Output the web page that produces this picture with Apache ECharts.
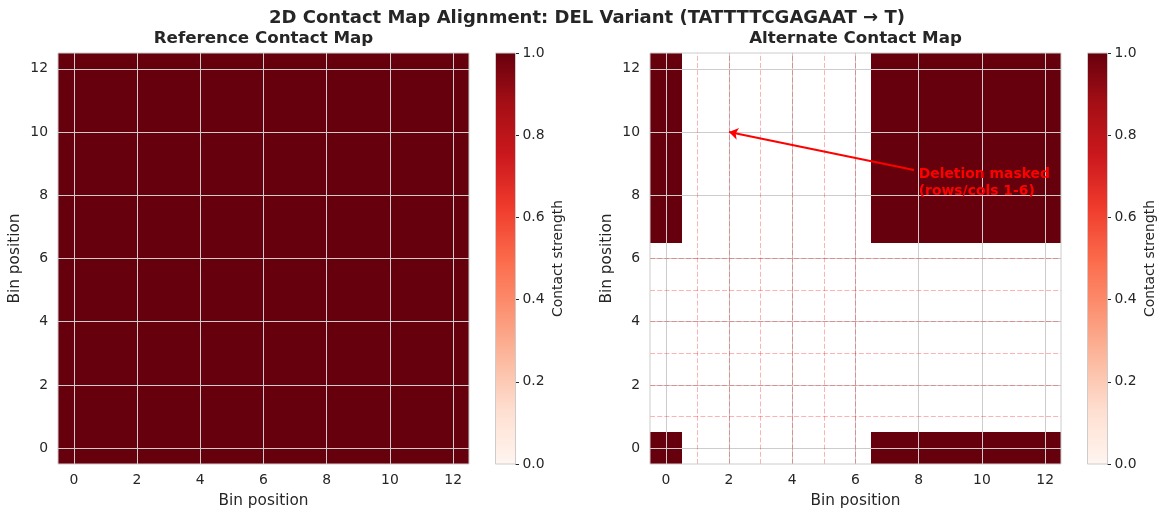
<!DOCTYPE html>
<html>
<head>
<meta charset="utf-8">
<script src="https://cdn.jsdelivr.net/npm/echarts@6/dist/echarts.min.js"></script>
<style>
  html, body { margin: 0; padding: 0; background: #fff; }
  #chart { width: 1168px; height: 518px; }
</style>
</head>
<body>
<div id="chart"></div>
<script>
// ---- data ----
const bins = [0, 1, 2, 3, 4, 5, 6, 7, 8, 9, 10, 11, 12];
const tickValues = [0, 2, 4, 6, 8, 10, 12];
const maskedBins = [1, 2, 3, 4, 5, 6];

const refRow = [1, 1, 1, 1, 1, 1, 1, 1, 1, 1, 1, 1, 1];
const refMatrix = [refRow, refRow, refRow, refRow, refRow, refRow, refRow,
                   refRow, refRow, refRow, refRow, refRow, refRow];

const altRowKept = [1, null, null, null, null, null, null, 1, 1, 1, 1, 1, 1];
const altRowMasked = [null, null, null, null, null, null, null, null, null, null, null, null, null];
const altMatrix = [altRowKept,
                   altRowMasked, altRowMasked, altRowMasked, altRowMasked, altRowMasked, altRowMasked,
                   altRowKept, altRowKept, altRowKept, altRowKept, altRowKept, altRowKept];

// matplotlib "Reds"
const redsColors = ['#fff5f0', '#fee0d2', '#fcbba1', '#fc9272', '#fb6a4a',
                    '#ef3b2c', '#cb181d', '#a50f15', '#67000d'];
const cbarRange = [0, 1];

const annotText = 'Deletion masked\n(rows/cols 1-6)';
const annotTextXY = [8, 8];
const arrowTail = [7.85, 8.8];
const arrowHead = [2, 10];

// ---- chart ----
const FONT = '"DejaVu Sans"';
const TXT = '#262626';
const GRIDC = '#cccccc';

function toCells(m) {
  const out = [];
  m.forEach((row, y) => row.forEach((v, x) => {
    if (v !== null) out.push([bins[x], bins[y], v]);
  }));
  return out;
}

// cell edges rounded to whole pixels so neighbours meet without seams
function cellItem(params, api) {
  const x = api.value(0), y = api.value(1);
  const a = api.coord([x - 0.5, y + 0.5]);
  const b = api.coord([x + 0.5, y - 0.5]);
  const x0 = Math.round(a[0]), y0 = Math.round(a[1]);
  const x1 = Math.round(b[0]), y1 = Math.round(b[1]);
  return {
    type: 'rect',
    shape: { x: x0, y: y0, width: x1 - x0, height: y1 - y0 },
    style: { fill: api.visual('color') }
  };
}

function cbarItem(params, api) {
  const a = api.coord([0, api.value(1)]);
  const b = api.coord([1, api.value(0)]);
  const stops = redsColors.map((c, i) => ({ offset: i / (redsColors.length - 1), color: c }));
  return {
    type: 'rect',
    shape: { x: a[0], y: a[1], width: b[0] - a[0], height: b[1] - a[1] },
    style: { fill: new echarts.graphic.LinearGradient(0, 1, 0, 0, stops) }
  };
}

function mapAxis(gi, isY) {
  return {
    gridIndex: gi, type: 'value', min: -0.5, max: 12.5, z: 4,
    axisLine: { show: false, onZero: false },
    axisTick: { show: false, customValues: tickValues },
    axisLabel: { customValues: tickValues, fontSize: 13.9, color: TXT, fontFamily: 'DejaVu Sans', margin: isY ? 10 : 9 },
    splitLine: { show: true, lineStyle: { color: GRIDC, width: 1 } },
    name: 'Bin position', nameLocation: 'middle', nameGap: isY ? 35 : 30,
    nameTextStyle: { fontSize: 15.3, color: TXT, fontFamily: 'DejaVu Sans' }
  };
}

function barYAxis(gi) {
  return {
    gridIndex: gi, type: 'value', position: 'right', min: 0, max: 1, interval: 0.2, z: 4,
    axisLine: { show: false, onZero: false },
    axisTick: { show: true, inside: false, length: 3.5, lineStyle: { color: TXT, width: 1 } },
    axisLabel: { formatter: v => v.toFixed(1), fontSize: 13.9, color: TXT, fontFamily: 'DejaVu Sans', margin: 7 },
    splitLine: { show: false },
    name: 'Contact strength', nameLocation: 'middle', nameRotate: 90, nameGap: 36,
    nameTextStyle: { fontSize: 13.9, color: TXT, fontFamily: 'DejaVu Sans' }
  };
}

const gridBase = { show: true, borderColor: GRIDC, borderWidth: 1, backgroundColor: 'transparent', z: 10 };

const chart = echarts.init(document.getElementById('chart'));
chart.setOption({
  animation: false,
  backgroundColor: '#ffffff',
  graphic: [
    { type: 'text', x: 587, y: 18, style: { text: '2D Contact Map Alignment: DEL Variant (TATTTTCGAGAAT \u2192 T)',
      font: 'bold 18px ' + FONT, fill: TXT, align: 'center', verticalAlign: 'middle' } },
    { type: 'text', x: 263.5, y: 39, style: { text: 'Reference Contact Map',
      font: 'bold 16.7px ' + FONT, fill: TXT, align: 'center', verticalAlign: 'middle' } },
    { type: 'text', x: 855.5, y: 39, style: { text: 'Alternate Contact Map',
      font: 'bold 16.7px ' + FONT, fill: TXT, align: 'center', verticalAlign: 'middle' } }
  ],
  grid: [
    Object.assign({ left: 58, top: 53, width: 411, height: 411 }, gridBase),
    Object.assign({ left: 650, top: 53, width: 411, height: 411 }, gridBase),
    Object.assign({ left: 495.5, top: 53, width: 20, height: 411 }, gridBase),
    Object.assign({ left: 1087.5, top: 53, width: 20, height: 411 }, gridBase)
  ],
  xAxis: [
    mapAxis(0, false), mapAxis(1, false),
    { gridIndex: 2, type: 'value', show: false, min: 0, max: 1 },
    { gridIndex: 3, type: 'value', show: false, min: 0, max: 1 }
  ],
  yAxis: [
    mapAxis(0, true), mapAxis(1, true),
    barYAxis(2), barYAxis(3)
  ],
  visualMap: [
    { type: 'continuous', show: false, seriesIndex: 0, dimension: 2, min: cbarRange[0], max: cbarRange[1],
      inRange: { color: redsColors } },
    { type: 'continuous', show: false, seriesIndex: 1, dimension: 2, min: cbarRange[0], max: cbarRange[1],
      inRange: { color: redsColors } }
  ],
  series: [
    {
      name: 'Reference', type: 'custom', xAxisIndex: 0, yAxisIndex: 0, silent: true,
      encode: { x: 0, y: 1 }, data: toCells(refMatrix), renderItem: cellItem
    },
    {
      name: 'Alternate', type: 'custom', xAxisIndex: 1, yAxisIndex: 1, silent: true,
      encode: { x: 0, y: 1 }, data: toCells(altMatrix), renderItem: cellItem,
      markLine: {
        silent: true, symbol: ['none', 'none'], label: { show: false },
        emphasis: { disabled: true },
        lineStyle: { color: 'rgba(255,0,0,0.3)', type: [5, 2.2], width: 1 },
        data: maskedBins.map(b => ({ xAxis: b })).concat(maskedBins.map(b => ({ yAxis: b })))
      }
    },
    {
      name: 'Annotation', type: 'custom', xAxisIndex: 1, yAxisIndex: 1, silent: true, z: 6,
      encode: { x: 0, y: 1 }, data: [annotTextXY],
      renderItem: function (params, api) {
        const p = api.coord([api.value(0), api.value(1)]);
        return {
          type: 'text', x: p[0], y: p[1] + 5,
          style: { text: annotText, fill: '#ff0000', font: 'bold 13.9px ' + FONT,
                   align: 'left', verticalAlign: 'bottom', lineHeight: 17 }
        };
      },
      markLine: {
        silent: true, symbol: ['none', 'arrow'], symbolSize: 9, label: { show: false },
        emphasis: { disabled: true },
        lineStyle: { color: '#ff0000', type: 'solid', width: 2 },
        data: [[{ coord: arrowTail }, { coord: arrowHead }]]
      }
    },
    {
      name: 'Colorbar ref', type: 'custom', xAxisIndex: 2, yAxisIndex: 2, silent: true,
      data: [cbarRange], renderItem: cbarItem
    },
    {
      name: 'Colorbar alt', type: 'custom', xAxisIndex: 3, yAxisIndex: 3, silent: true,
      data: [cbarRange], renderItem: cbarItem
    }
  ]
});
</script>
</body>
</html>
